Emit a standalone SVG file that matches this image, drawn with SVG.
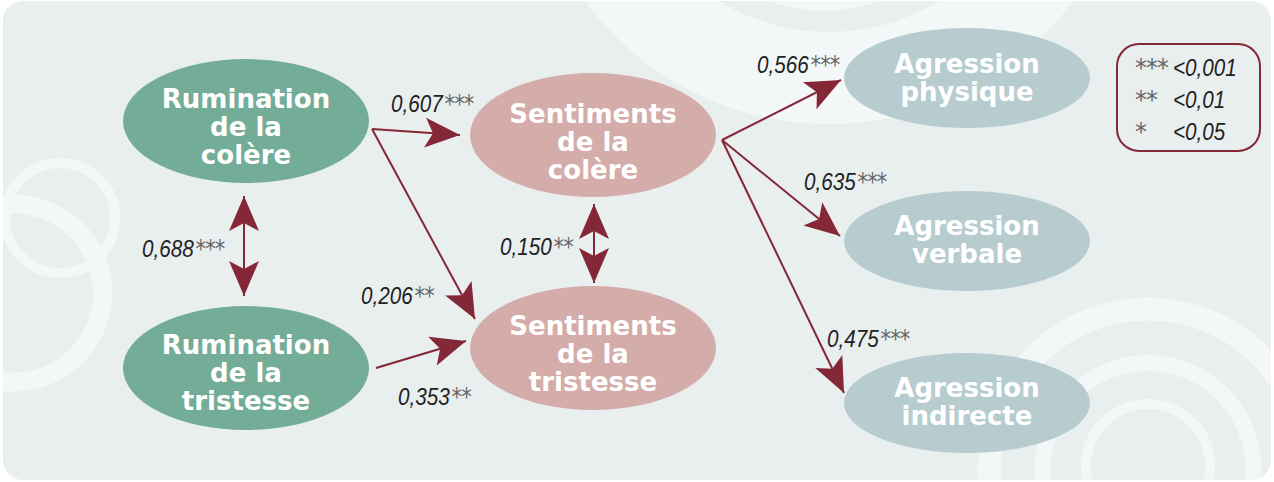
<svg xmlns="http://www.w3.org/2000/svg" width="1274" height="482" viewBox="0 0 1274 482">
<style>
.ring{fill:none;stroke:#f4f7f7}
.lbl{font-family:"DejaVu Sans",sans-serif;font-weight:bold;font-size:26px;fill:#fff;text-anchor:middle}
.num{font-family:"Liberation Sans",sans-serif;font-style:italic;font-size:23.5px;fill:#222}
.ast{font-family:"DejaVu Sans",sans-serif;font-style:normal;font-size:24px;fill:#666;letter-spacing:-1px}
.arr{stroke:#842736;stroke-width:2;fill:none}
</style>
<defs>
<clipPath id="bg"><rect x="3" y="1" width="1268" height="479" rx="20"/></clipPath>
<marker id="ah" markerUnits="userSpaceOnUse" markerWidth="40" markerHeight="40" viewBox="-36 -18 40 36" refX="0" refY="0" orient="auto-start-reverse">
<path d="M0,0 L-35,-15 L-27,0 L-35,15 Z" fill="#842736"/>
</marker>
</defs>
<rect x="0" y="0" width="1274" height="482" fill="#fff"/>
<rect x="3" y="1" width="1268" height="479" rx="20" fill="#e9eeee"/>
<g clip-path="url(#bg)">
<circle class="ring" cx="829" cy="-180" r="258" stroke-width="92"/>
<circle class="ring" cx="824" cy="-150" r="156" stroke-width="10"/>
<circle class="ring" cx="60" cy="218" r="55" stroke-width="10"/>
<circle class="ring" cx="13.5" cy="293" r="89" stroke-width="19"/>
<circle class="ring" cx="1148" cy="468" r="159" stroke-width="23"/>
<circle class="ring" cx="1148" cy="468" r="105" stroke-width="16"/>
<circle class="ring" cx="1148" cy="466" r="62" stroke-width="10"/>
</g>
<g id="connectors">
<path class="arr" d="M372,129 L460,135" marker-end="url(#ah)"/>
<path class="arr" d="M372,129 L475,319" marker-end="url(#ah)"/>
<path class="arr" d="M376,368 L466,341" marker-end="url(#ah)"/>
<path class="arr" d="M244,196 L244,296" marker-start="url(#ah)" marker-end="url(#ah)"/>
<path class="arr" d="M594,204 L594,283" marker-start="url(#ah)" marker-end="url(#ah)"/>
<path class="arr" d="M722,140 L841,80" marker-end="url(#ah)"/>
<path class="arr" d="M722,140 L840,236" marker-end="url(#ah)"/>
<path class="arr" d="M722,140 L844,393" marker-end="url(#ah)"/>
</g>
<g id="labels">
<text class="num" transform="translate(142,257) scale(0.88,1)">0,688<tspan class="ast" dx="2">***</tspan></text>
<text class="num" transform="translate(391,112) scale(0.88,1)">0,607<tspan class="ast" dx="2">***</tspan></text>
<text class="num" transform="translate(361,304) scale(0.88,1)">0,206<tspan class="ast" dx="2">**</tspan></text>
<text class="num" transform="translate(398,405) scale(0.88,1)">0,353<tspan class="ast" dx="2">**</tspan></text>
<text class="num" transform="translate(500,255) scale(0.88,1)">0,150<tspan class="ast" dx="2">**</tspan></text>
<text class="num" transform="translate(757,73) scale(0.88,1)">0,566<tspan class="ast" dx="2">***</tspan></text>
<text class="num" transform="translate(804,190) scale(0.88,1)">0,635<tspan class="ast" dx="2">***</tspan></text>
<text class="num" transform="translate(827,347) scale(0.88,1)">0,475<tspan class="ast" dx="2">***</tspan></text>
</g>
<g id="rum-colere">
<ellipse cx="246" cy="121" rx="123" ry="62" fill="#73ad98"/>
<text class="lbl" x="246" y="108">Rumination</text>
<text class="lbl" x="246" y="136">de la</text>
<text class="lbl" x="246" y="164">colère</text>
</g>
<g id="rum-tristesse">
<ellipse cx="246" cy="368" rx="123" ry="62" fill="#73ad98"/>
<text class="lbl" x="246" y="354">Rumination</text>
<text class="lbl" x="246" y="382">de la</text>
<text class="lbl" x="246" y="410">tristesse</text>
</g>
<g id="sent-colere">
<ellipse cx="593" cy="135" rx="123" ry="62" fill="#d4aca9"/>
<text class="lbl" x="593" y="123">Sentiments</text>
<text class="lbl" x="593" y="151">de la</text>
<text class="lbl" x="593" y="179">colère</text>
</g>
<g id="sent-tristesse">
<ellipse cx="593" cy="348" rx="123" ry="62" fill="#d4aca9"/>
<text class="lbl" x="593" y="335">Sentiments</text>
<text class="lbl" x="593" y="363">de la</text>
<text class="lbl" x="593" y="391">tristesse</text>
</g>
<g id="agr-physique">
<ellipse cx="967" cy="78" rx="123" ry="50" fill="#b6cccf"/>
<text class="lbl" x="967" y="73">Agression</text>
<text class="lbl" x="967" y="101">physique</text>
</g>
<g id="agr-verbale">
<ellipse cx="967" cy="241" rx="123" ry="50" fill="#b6cccf"/>
<text class="lbl" x="967" y="235">Agression</text>
<text class="lbl" x="967" y="263">verbale</text>
</g>
<g id="agr-indirecte">
<ellipse cx="967" cy="403" rx="123" ry="50" fill="#b6cccf"/>
<text class="lbl" x="967" y="397">Agression</text>
<text class="lbl" x="967" y="425">indirecte</text>
</g>
<g id="legend">
<rect x="1117" y="44" width="143" height="107" rx="22" fill="none" stroke="#842736" stroke-width="2"/>
<text class="ast" x="1135" y="76">***</text>
<text class="num" transform="translate(1173,76) scale(0.88,1)">&lt;0,001</text>
<text class="ast" x="1135" y="108">**</text>
<text class="num" transform="translate(1173,108) scale(0.88,1)">&lt;0,01</text>
<text class="ast" x="1135" y="140">*</text>
<text class="num" transform="translate(1173,140) scale(0.88,1)">&lt;0,05</text>
</g>
</svg>
